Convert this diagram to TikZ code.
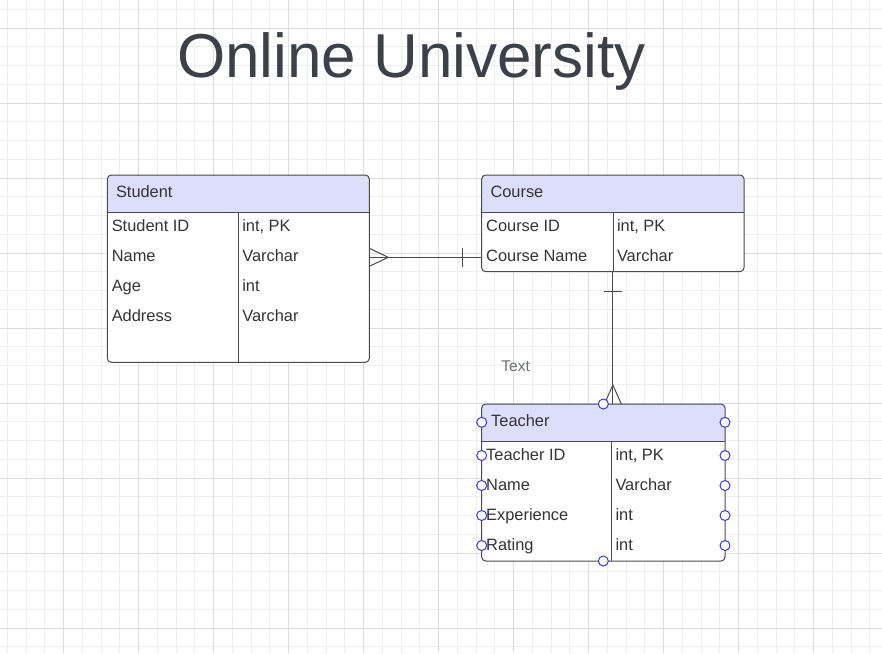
\documentclass[tikz,border=0pt]{standalone}
\usepackage{fontspec}
\setmainfont{Liberation Sans}
\usetikzlibrary{positioning}

\definecolor{gridminor}{HTML}{EEEEEE}
\definecolor{gridmajor}{HTML}{DCDCDC}
\definecolor{headfill}{HTML}{DDDDFC}
\definecolor{portblue}{HTML}{3A3AD4}
\definecolor{titlegray}{HTML}{3B4049}
\definecolor{textdark}{HTML}{333333}
\definecolor{notegray}{HTML}{6B6E73}
\definecolor{linegray}{HTML}{4A4A4A}

\begin{document}
\begin{tikzpicture}[x=1pt, y=-1pt,
    every node/.style={inner sep=0pt, outer sep=0pt},
    entity/.style={rectangle, fill=white, anchor=north west},
    field/.style={anchor=base west, text=textdark, font=\fontsize{16.4}{19}\selectfont},
    port/.style={circle, draw=portblue, fill=white, line width=1pt, minimum size=10pt},
    rel/.style={draw=linegray, line width=1pt}]

        \useasboundingbox[fill=white] (0,0) rectangle (882,653);

        % Siatka
        \foreach \i in {0,...,46} \draw[gridminor, line width=0.9pt] ({7.3+18.75*\i},0) -- ++(0,653);
        \foreach \i in {0,...,34} \draw[gridminor, line width=0.9pt] (0,{9.3+18.75*\i}) -- ++(882,0);
        \foreach \i in {0,...,10} \draw[gridmajor, line width=1.2pt] ({63.3+75*\i},0) -- ++(0,653);
        \foreach \i in {0,...,8} \draw[gridmajor, line width=1.2pt] (0,{28.3+75*\i}) -- ++(882,0);

        % Tytul
        \node[anchor=base west, text=titlegray, font=\fontsize{62}{70}\selectfont] (title) at (177,77.3) {Online University};

        % Tabele
        \node[entity, minimum width=262pt, minimum height=187.3pt] (student) at (107.3,175) {};
        \node[entity, minimum width=262.3pt, minimum height=96.7pt] (course) at (481.7,175) {};
        \node[entity, minimum width=243.3pt, minimum height=157pt] (teacher) at (481.7,404) {};

        \fill[headfill] ([yshift=-37.3pt]student.north west) [rounded corners=4pt] -- (student.north west) -- (student.north east) [sharp corners] -- ([yshift=-37.3pt]student.north east) -- cycle;
        \fill[headfill] ([yshift=-37.3pt]course.north west) [rounded corners=4pt] -- (course.north west) -- (course.north east) [sharp corners] -- ([yshift=-37.3pt]course.north east) -- cycle;
        \fill[headfill] ([yshift=-37.7pt]teacher.north west) [rounded corners=4pt] -- (teacher.north west) -- (teacher.north east) [sharp corners] -- ([yshift=-37.7pt]teacher.north east) -- cycle;

        \draw[rel, rounded corners=4pt] (student.north west) rectangle (student.south east);
        \draw[rel, rounded corners=4pt] (course.north west) rectangle (course.south east);
        \draw[rel, rounded corners=4pt] (teacher.north west) rectangle (teacher.south east);

        \draw[rel] ([yshift=-37.3pt]student.north west) -- ([yshift=-37.3pt]student.north east);
        \draw[rel] ([yshift=-37.3pt]course.north west) -- ([yshift=-37.3pt]course.north east);
        \draw[rel] ([yshift=-37.7pt]teacher.north west) -- ([yshift=-37.7pt]teacher.north east);
        \draw[rel] (238.3,212.3) -- (238.3,362.3);
        \draw[rel] (613,212.3) -- (613,271.7);
        \draw[rel] (611.3,441.7) -- (611.3,561);

        % Opisy tabel
        \node[field] (shead) at (116,197.7) {Student};
        \node[field] (sid) at (111.8,231.5) {Student ID};
        \node[field] (sidt) at (242.3,231.5) {int, PK};
        \node[field] (sname) at (111.8,261.5) {Name};
        \node[field] (snamet) at (242.3,261.5) {Varchar};
        \node[field] (sage) at (111.8,291.5) {Age};
        \node[field] (saget) at (242.3,291.5) {int};
        \node[field] (saddr) at (111.8,321.5) {Address};
        \node[field] (saddrt) at (242.3,321.5) {Varchar};

        \node[field] (chead) at (490.5,197.7) {Course};
        \node[field] (cid) at (486.2,231.5) {Course ID};
        \node[field] (cidt) at (617,231.5) {int, PK};
        \node[field] (cname) at (486.2,261.5) {Course Name};
        \node[field] (cnamet) at (617,261.5) {Varchar};

        \node[field] (thead) at (491.2,426) {Teacher};
        \node[field] (tid) at (486.2,460) {Teacher ID};
        \node[field] (tidt) at (615.5,460) {int, PK};
        \node[field] (tname) at (486.2,490) {Name};
        \node[field] (tnamet) at (615.5,490) {Varchar};
        \node[field] (texp) at (486.2,520) {Experience};
        \node[field] (texpt) at (615.5,520) {int};
        \node[field] (trate) at (486.2,550) {Rating};
        \node[field] (tratet) at (615.5,550) {int};

        \node[anchor=base west, text=notegray, font=\fontsize{15.5}{18}\selectfont] (note) at (501.4,371.7) {Text};

        % Relacje
        \coordinate (sfoot) at (369.3,257.3);
        \coordinate (cbar) at (481.7,257.3);
        \draw[rel] (sfoot) -- (cbar);
        \draw[rel] ([yshift=9pt]sfoot) -- ([xshift=19pt]sfoot) -- ([yshift=-9pt]sfoot);
        \draw[rel] ([xshift=-19.4pt,yshift=9.2pt]cbar) -- ([xshift=-19.4pt,yshift=-9.2pt]cbar);

        \coordinate (tfoot) at (course.south |- teacher.north);
        \draw[rel] (course.south) -- (tfoot);
        \draw[rel] ([xshift=-8.8pt,yshift=-20pt]course.south) -- ([xshift=8.8pt,yshift=-20pt]course.south);
        \draw[rel] ([xshift=-8.5pt]tfoot) -- ([yshift=19pt]tfoot) -- ([xshift=8.5pt]tfoot);

        % Punkty polaczen
        \node[port] (pn) at (teacher.north) {};
        \node[port] (ps) at (teacher.south) {};
        \node[port] (pw0) at (481.7,422.3) {};
        \node[port] (pw1) at (481.7,455.5) {};
        \node[port] (pw2) at (481.7,485.5) {};
        \node[port] (pw3) at (481.7,515.5) {};
        \node[port] (pw4) at (481.7,545.5) {};
        \node[port] (pe0) at (725,422.3) {};
        \node[port] (pe1) at (725,455.5) {};
        \node[port] (pe2) at (725,485.5) {};
        \node[port] (pe3) at (725,515.5) {};
        \node[port] (pe4) at (725,545.5) {};
    \end{tikzpicture}
\end{document}
